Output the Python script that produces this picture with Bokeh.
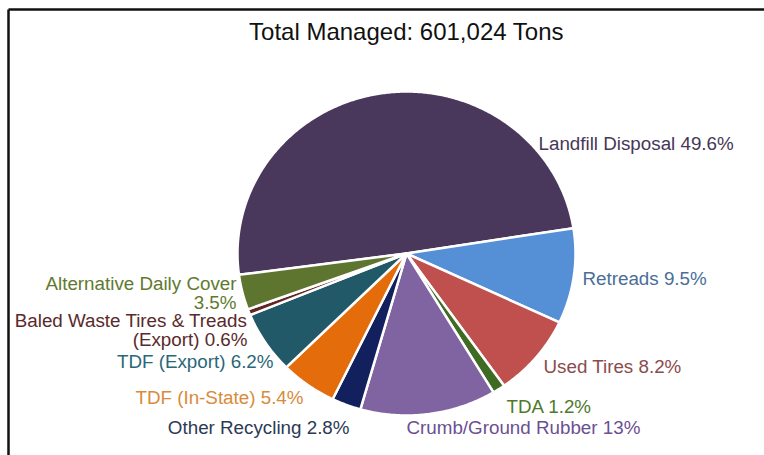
import numpy as np
from bokeh.plotting import figure
from bokeh.models import Range1d, ColumnDataSource
from bokeh.core.properties import value
from bokeh.embed import file_html
from bokeh.resources import INLINE

# ---- data (clockwise order, starting with Landfill Disposal) ----
title_text = "Total Managed: 601,024 Tons"
categories = ["Landfill Disposal", "Retreads", "Used Tires", "TDA",
              "Crumb/Ground Rubber", "Other Recycling", "TDF (In-State)",
              "TDF (Export)", "Baled Waste Tires & Treads (Export)",
              "Alternative Daily Cover"]
percents = [49.6, 9.5, 8.2, 1.2, 13, 2.8, 5.4, 6.2, 0.6, 3.5]

# ---- styles ----
slice_colors = ["#4A385C", "#5590D6", "#C0504D", "#3F6B22", "#8064A2",
                "#12205E", "#E46C0A", "#215968", "#632523", "#5E7530"]
label_colors = ["#463758", "#4A6E98", "#8B4B4E", "#4E7A2A", "#6B4F93",
                "#2B3A55", "#D98A3A", "#2A6778", "#5A2A2A", "#5F7A2E"]
# label line breaks (display text) and layout
label_breaks = {"Alternative Daily Cover": "Alternative Daily Cover\n",
                "Baled Waste Tires & Treads (Export)": "Baled Waste Tires & Treads\n(Export)"}
label_layout = [(538, 143, "left"), (582, 278, "left"), (543, 366, "left"),
                (506, 406, "left"), (406, 427, "left"), (349, 427, "right"),
                (303, 397, "right"), (273, 361, "right"), (247, 320, "right"),
                (236, 283, "right")]
LINE_H = 19
FONT = "Liberation Sans"

W, H = 764, 455
cx, cy, rx, ry = 406, 253, 169, 162
end_of_first = 9.0  # degrees (ccw) where the first slice ends, going clockwise

p = figure(width=W, height=H, x_range=Range1d(0, W), y_range=Range1d(H, 0),
           output_backend="svg", toolbar_location=None, min_border=0,
           x_axis_type=None, y_axis_type=None)
p.grid.visible = False
p.outline_line_color = None
p.background_fill_color = "white"
p.border_fill_color = "white"

# ---- pie wedges ----
vals = np.array(percents, dtype=float)
fracs = vals / vals.sum()
start_angle = end_of_first + fracs[0] * 360.0  # first slice starts here, moving clockwise
xs, ys = [], []
a = start_angle
for f in fracs:
    a0, a1 = a, a - f * 360.0
    n = max(int(abs(a1 - a0)) * 2, 4)
    th = np.radians(np.linspace(a0, a1, n))
    xs.append([cx] + list(cx + rx * np.cos(th)) + [cx])
    ys.append([cy] + list(cy - ry * np.sin(th)) + [cy])
    a = a1
p.patches(xs=xs, ys=ys, fill_color=slice_colors, line_color="white", line_width=2.5,
          line_join="round")

# ---- frame ----
p.segment(x0=[8, 8], y0=[9, 9], x1=[W, 8], y1=[9, H], line_color="#111111", line_width=2.5)

# ---- title ----
p.text(x=[406], y=[31], text=[title_text], text_align="center", text_baseline="middle",
       text_font=value(FONT), text_font_size="24px", text_color="#111111")

# ---- labels ----
lx, ly, lt, la, lc = [], [], [], [], []
for cat, pct, (x0, y0, al), col in zip(categories, percents, label_layout, label_colors):
    base = label_breaks.get(cat, cat)
    full = f"{base} {pct:g}%" if not base.endswith("\n") else f"{base}{pct:g}%"
    for i, line in enumerate(full.split("\n")):
        lx.append(x0); ly.append(y0 + i * LINE_H); lt.append(line.strip())
        la.append(al); lc.append(col)
src = ColumnDataSource(dict(x=lx, y=ly, text=lt, align=la, color=lc))
p.text(x="x", y="y", text="text", text_align="align", text_color="color",
       text_baseline="middle", text_font=value(FONT), text_font_size="18.8px", source=src)

open("out.html", "w").write(file_html(p, INLINE))
